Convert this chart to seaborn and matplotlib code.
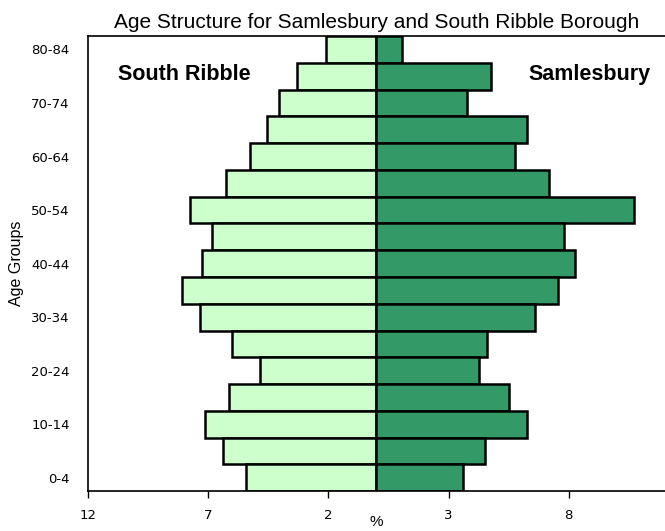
import pandas as pd
import matplotlib.pyplot as plt
import seaborn as sns

# Age groups, youngest first
ages = ['0-4', '5-9', '10-14', '15-19', '20-24', '25-29', '30-34', '35-39', '40-44',
        '45-49', '50-54', '55-59', '60-64', '65-69', '70-74', '75-79', '80-84']

# % of population in each age group
south_ribble = [5.44, 6.36, 7.12, 6.11, 4.86, 6.02, 7.35, 8.10, 7.27,
                6.85, 7.75, 6.26, 5.26, 4.53, 4.05, 3.31, 2.08]
samlesbury = [3.60, 4.52, 6.27, 5.53, 4.27, 4.60, 6.59, 7.57, 8.24,
              7.81, 10.71, 7.16, 5.75, 6.26, 3.78, 4.78, 1.07]

xticks = [-12, -7, -2, 3, 8]
shown_ages = ['0-4', '10-14', '20-24', '30-34', '40-44', '50-54', '60-64', '70-74', '80-84']

df = pd.DataFrame({'age': ages,
                   'south_ribble': [-v for v in south_ribble],
                   'samlesbury': samlesbury})

sns.set_style('white')
plt.rcParams['font.family'] = ['Liberation Sans', 'DejaVu Sans']
plt.rcParams['text.color'] = 'black'
plt.rcParams['axes.labelcolor'] = 'black'
plt.rcParams['xtick.color'] = 'black'
plt.rcParams['ytick.color'] = 'black'

fig = plt.figure(figsize=(6.65, 5.31), dpi=100)
ax = fig.add_axes([0.132, 0.075, 0.868, 0.857])

order = ages[::-1]  # oldest at the top
sns.barplot(data=df, y='age', x='south_ribble', order=order, color='#CCFFCC',
            width=1.0, edgecolor='black', linewidth=1.8, saturation=1, ax=ax)
sns.barplot(data=df, y='age', x='samlesbury', order=order, color='#339966',
            width=1.0, edgecolor='black', linewidth=1.8, saturation=1, ax=ax)

ax.set_xlim(-12, 12)
ax.set_ylim(len(ages) - 0.5, -0.5)
ax.set_xticks(xticks)
ax.set_xticklabels([str(abs(t)) for t in xticks], fontsize=9.5, family='DejaVu Sans')
ax.set_yticks([order.index(a) for a in shown_ages])
ax.set_yticklabels(shown_ages, fontsize=9.5, family='DejaVu Sans')
ax.tick_params(axis='x', direction='out', length=5, width=1, bottom=True, pad=8)
ax.tick_params(axis='y', length=0, pad=13)

for side in ['left', 'bottom', 'top']:
    ax.spines[side].set_visible(True)
    ax.spines[side].set_color('black')
    ax.spines[side].set_linewidth(1.2)
ax.spines['right'].set_visible(False)

ax.set_xlabel('%', fontsize=11, labelpad=-5)
ax.set_ylabel('Age Groups', fontsize=11.5, labelpad=5)
ax.set_title('Age Structure for Samlesbury and South Ribble Borough', fontsize=15, pad=6)

ax.text(0.052, 0.915, 'South Ribble', transform=ax.transAxes, fontsize=15.5,
        fontweight='bold', va='center', ha='left')
ax.text(0.975, 0.915, 'Samlesbury', transform=ax.transAxes, fontsize=15.5,
        fontweight='bold', va='center', ha='right')

fig.savefig('out.png', dpi=100)
